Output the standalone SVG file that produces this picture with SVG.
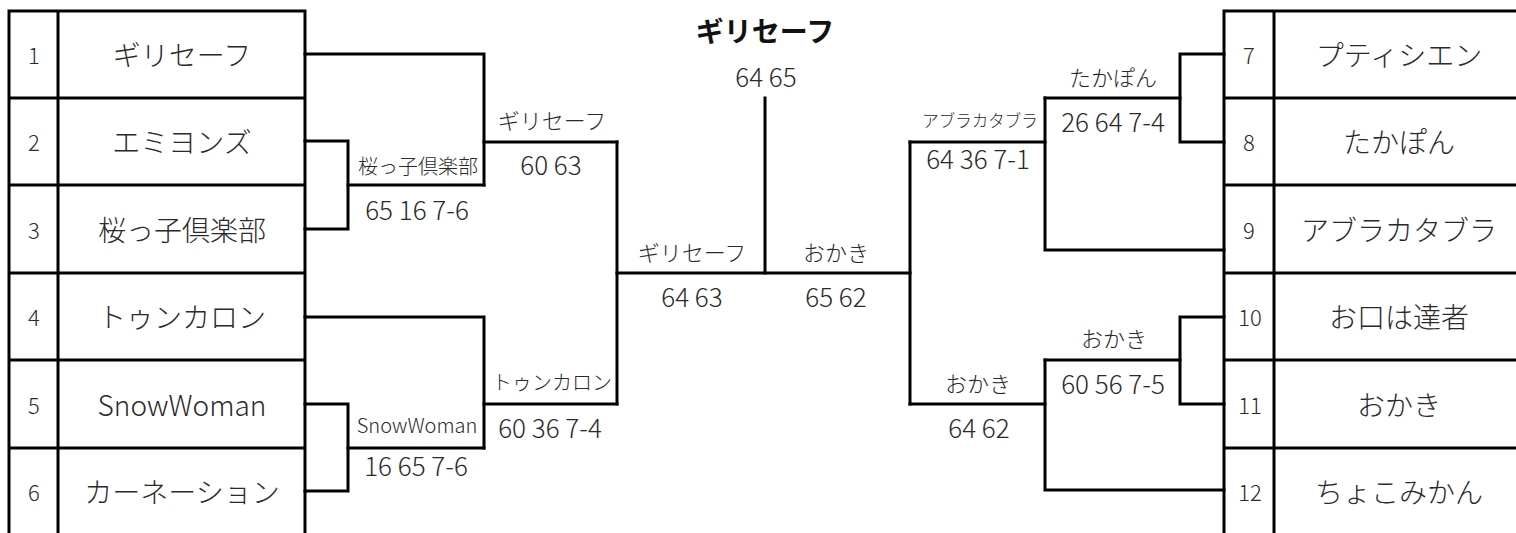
<svg xmlns="http://www.w3.org/2000/svg" width="1516" height="533" viewBox="0 0 1516 533">
<style>
text{font-family:"Noto Sans CJK JP","Noto Sans",sans-serif;font-weight:300;fill:#2a2a2a;text-anchor:middle;dominant-baseline:central}
.num{font-size:22px}
.name{font-size:28px}
.sc{font-size:26px}
.lb{font-size:22px}
.sm{font-size:20px}
.xs{font-size:16.5px}
.title{font-size:28px;font-weight:bold;fill:#111}
.ln{stroke:#000;stroke-width:3;fill:none;stroke-linecap:square;stroke-linejoin:miter}
</style>
<g id="left-table" class="ln">
<path d="M9,533 V11 H305 V533 M58,11 V533 M9,98 H305 M9,185 H305 M9,273 H305 M9,360 H305 M9,448 H305"/>
</g>
<g id="right-table" class="ln">
<path d="M1224,533 V11 H1516 M1274,11 V533 M1224,98 H1516 M1224,185 H1516 M1224,273 H1516 M1224,360 H1516 M1224,448 H1516"/>
</g>
<g id="team1"><text class="num" x="34" y="54">1</text><text class="name" x="182" y="54">ギリセーフ</text></g>
<g id="team2"><text class="num" x="34" y="141">2</text><text class="name" x="182" y="141">エミヨンズ</text></g>
<g id="team3"><text class="num" x="34" y="229">3</text><text class="name" x="182" y="229">桜っ子倶楽部</text></g>
<g id="team4"><text class="num" x="34" y="316">4</text><text class="name" x="182" y="316">トゥンカロン</text></g>
<g id="team5"><text class="num" x="34" y="404">5</text><text class="name" x="182" y="404">SnowWoman</text></g>
<g id="team6"><text class="num" x="34" y="491">6</text><text class="name" x="182" y="491">カーネーション</text></g>
<g id="team7"><text class="num" x="1249" y="54">7</text><text class="name" x="1399" y="54">プティシエン</text></g>
<g id="team8"><text class="num" x="1249" y="141">8</text><text class="name" x="1399" y="141">たかぽん</text></g>
<g id="team9"><text class="num" x="1249" y="229">9</text><text class="name" x="1399" y="229">アブラカタブラ</text></g>
<g id="team10"><text class="num" x="1250" y="316">10</text><text class="name" x="1399" y="316">お口は達者</text></g>
<g id="team11"><text class="num" x="1250" y="404">11</text><text class="name" x="1399" y="404">おかき</text></g>
<g id="team12"><text class="num" x="1250" y="491">12</text><text class="name" x="1399" y="491">ちょこみかん</text></g>
<g id="connectors" class="ln">
<path d="M305,54 H484 V185"/>
<path d="M305,141 H348 V229 H305"/>
<path d="M348,185 H484"/>
<path d="M484,142 H617"/>
<path d="M305,317 H484 V448"/>
<path d="M305,404 H348 V491 H305"/>
<path d="M348,448 H484"/>
<path d="M484,404 H617"/>
<path d="M617,142 V404"/>
<path d="M617,273 H910"/>
<path d="M765,98 V273"/>
<path d="M910,142 V404"/>
<path d="M910,142 H1045"/>
<path d="M910,404 H1045"/>
<path d="M1045,98 V250 H1224"/>
<path d="M1045,98 H1180"/>
<path d="M1224,54 H1180 V142 H1224"/>
<path d="M1045,360 H1180"/>
<path d="M1224,317 H1180 V404 H1224"/>
<path d="M1045,360 V490 H1224"/>
</g>
<g id="m-l1a"><text class="sm" x="418" y="165">桜っ子倶楽部</text><text class="sc" x="417" y="208">65 16 7-6</text></g>
<g id="m-l1b"><text class="sm" x="417" y="424">SnowWoman</text><text class="sc" x="416" y="464">16 65 7-6</text></g>
<g id="m-l2a"><text class="lb" x="552" y="119">ギリセーフ</text><text class="sc" x="551" y="163">60 63</text></g>
<g id="m-l2b"><text class="sm" x="552" y="381">トゥンカロン</text><text class="sc" x="550" y="426">60 36 7-4</text></g>
<g id="m-sf-l"><text class="lb" x="692" y="251">ギリセーフ</text><text class="sc" x="692" y="295">64 63</text></g>
<g id="m-sf-r"><text class="lb" x="836" y="251">おかき</text><text class="sc" x="836" y="295">65 62</text></g>
<g id="final"><text class="title" x="765" y="30">ギリセーフ</text><text class="sc" x="766" y="75">64 65</text></g>
<g id="m-r2a"><text class="xs" x="980" y="120">アブラカタブラ</text><text class="sc" x="978" y="157">64 36 7-1</text></g>
<g id="m-r2b"><text class="lb" x="978" y="382">おかき</text><text class="sc" x="979" y="426">64 62</text></g>
<g id="m-r1a"><text class="lb" x="1113" y="76">たかぽん</text><text class="sc" x="1113" y="120">26 64 7-4</text></g>
<g id="m-r1b"><text class="lb" x="1114" y="337">おかき</text><text class="sc" x="1113" y="382">60 56 7-5</text></g>
</svg>
